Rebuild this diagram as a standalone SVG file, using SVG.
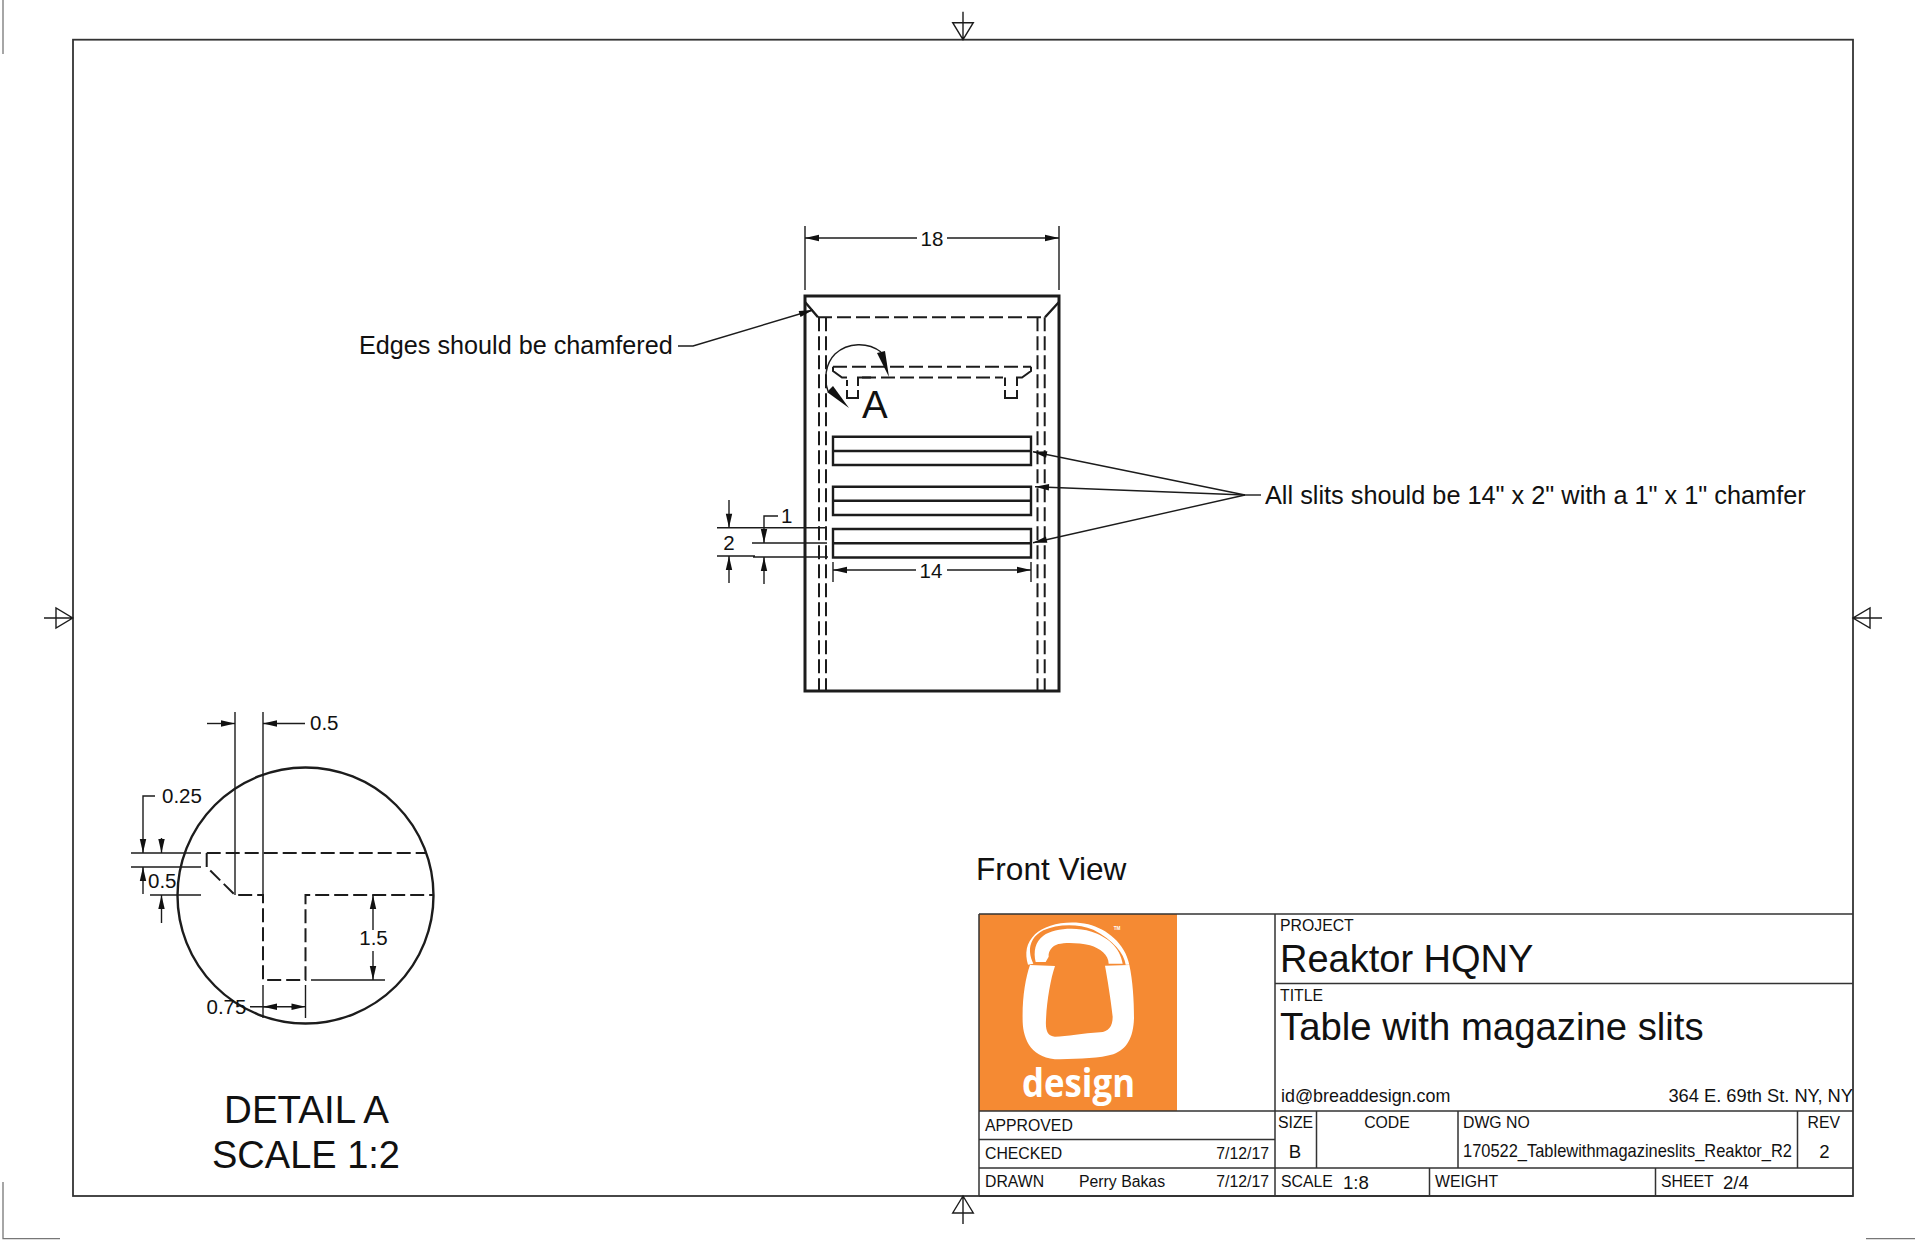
<svg xmlns="http://www.w3.org/2000/svg" width="1920" height="1242" viewBox="0 0 1920 1242">
<style>
text{font-family:"Liberation Sans",Arial,sans-serif;fill:#111}
.ln,.th,.hv,.da,.fr,.cr{fill:none;stroke:#1c1c1c}
.ln{stroke-width:1.4}
.th{stroke-width:2.4}
.hv{stroke-width:3}
.fr{stroke-width:1.8;stroke:#333}
.cr{stroke-width:1.3;stroke:#777}
.da{stroke-width:2;stroke-dasharray:14 5}
.tb{stroke-width:1.5;fill:none;stroke:#333}
.d{font-size:20.5px}
.s{font-size:15.8px}
.m{font-size:17.9px}
.b{font-size:18.6px}
.c{text-anchor:middle}
.ah{marker-end:url(#arr)}
</style>
<defs>
<marker id="arr" markerUnits="userSpaceOnUse" markerWidth="14" markerHeight="7" refX="14" refY="3.5" orient="auto" overflow="visible"><path d="M0,.3L14,3.5L0,6.7z" fill="#111"/></marker>
</defs>
<rect width="1920" height="1242" fill="#fff"/>

<g id="sheet-frame">
<rect class="fr" x="73" y="39.7" width="1780" height="1156.3"/>
<path class="cr" d="M3,0V54M3,1182V1238.7H60M1866,1238.7H1915"/>
<path class="ln" d="M952.7,22.7H973.3L963,39.7zM963,11.7V39.7"/>
<path class="ln" d="M952.7,1213H973.3L963,1196zM963,1196V1224"/>
<path class="ln" d="M56,608V628L72.7,618zM44,618H72.7"/>
<path class="ln" d="M1870,608V628L1853,618zM1853,618H1882"/>
</g>

<g id="front-view">
<rect class="hv" x="805" y="296" width="254" height="395"/>
<path class="th" d="M805,302L818,317.3M1059,302L1045,317.3"/>
<path class="da" d="M818,317.3H1045"/>
<path class="da" d="M819,317.3V691M826,317.3V691M1037.5,317.3V691M1044.7,317.3V691"/>
<path class="da" d="M833,366.7H1031"/>
<path class="da" d="M862,377.5H1003"/>
<path class="da" style="stroke-dasharray:none" d="M833,366.7V371L842,377.5H847M847,380V386M847,390V398H858V390M858,386V377.5H871M1005,377.5H1005V386M1005,390V398H1017V390M1017,386V377.5H1022L1031,371V366.7"/>
<path class="th" d="M833,436.7H1031V465H833zM833,451H1031"/>
<path class="th" d="M833,486.7H1031V515H833zM833,500.7H1031"/>
<path class="th" d="M833,529H1031V557.5H833zM833,543.3H1031"/>
<path class="ln" d="M881,352C868,342 848,342 835,354C825,364 824,380 828,391"/>
<polygon points="889,377 877,353 885,351" fill="#111"/>
<polygon points="849,408 827,392 833,386" fill="#111"/>
<text x="862" y="418" font-size="38.5">A</text>
</g>

<g id="dimensions-front">
<path class="ln" d="M805,226V290M1059,226V290"/>
<path class="ln ah" d="M917,238H805"/>
<path class="ln ah" d="M947,238H1059"/>
<text class="d c" x="932" y="246">18</text>
<path class="ln" d="M717,527.7H827M752,543H827M717,556H755M753,557H828"/>
<path class="ln ah" d="M729,500V527.7"/>
<path class="ln ah" d="M729,583V556"/>
<path class="ln ah" d="M778,516H764V543"/>
<path class="ln ah" d="M764,584V557"/>
<text class="d" x="781" y="523">1</text>
<text class="d c" x="729" y="550">2</text>
<path class="ln" d="M833,562V582M1031,562V582"/>
<path class="ln ah" d="M916,570H833"/>
<path class="ln ah" d="M947,570H1031"/>
<text class="d c" x="931" y="578">14</text>
</g>

<g id="notes">
<text x="359" y="354" font-size="25.2">Edges should be chamfered</text>
<path class="ln ah" d="M678,346H693L813,310"/>
<text x="1265" y="504" font-size="25.3">All slits should be 14" x 2" with a 1" x 1" chamfer</text>
<path class="ln" d="M1261,495H1245"/>
<path class="ln ah" d="M1245,495L1033,451.7"/>
<path class="ln ah" d="M1245,495L1035,486.7"/>
<path class="ln ah" d="M1245,495L1033,542.7"/>
</g>

<g id="detail-a">
<circle class="th" cx="305.5" cy="895.5" r="128"/>
<path class="da" d="M206.7,853H427"/>
<path class="da" d="M206.7,853V867L235,895H263V980H305.5V895H433"/>
<path class="ln" d="M131,853H201M131,867H201M150,895H201"/>
<path class="ln" d="M235,712V895M263,712V895M263,985V1018M305.5,985V1018M311,980H385"/>
<path class="ln ah" d="M207,723.5H235"/>
<path class="ln ah" d="M305,723.5H263"/>
<text class="d" x="310" y="730">0.5</text>
<path class="ln ah" d="M155,796H143V853"/>
<text class="d" x="162" y="803">0.25</text>
<path class="ln ah" d="M161.5,838V853"/>
<path class="ln ah" d="M143,894V867"/>
<path class="ln ah" d="M161.5,923V895"/>
<text class="d" x="148" y="888">0.5</text>
<path class="ln ah" d="M373,930V895"/>
<path class="ln ah" d="M373,951V980"/>
<text class="d c" x="373.5" y="945">1.5</text>
<text class="d" x="206.5" y="1014">0.75</text>
<path class="ln" d="M250,1006.7H292"/>
<path class="ln ah" d="M277,1006.7H263"/>
<path class="ln ah" d="M291,1006.7H305.5"/>
<text x="306.5" y="1123" font-size="38.5" class="c">DETAIL A</text>
<text x="306" y="1168" font-size="38" class="c">SCALE 1:2</text>
</g>

<text x="976" y="880" font-size="31.6">Front View</text>

<g id="logo">
<rect x="979" y="914" width="198" height="197" fill="#f58a33"/>
<g transform="translate(1010 915) scale(.33333)">
<path fill="#fff" fill-rule="evenodd" d="M60,150C46,190 36,250 38,320C40,375 65,433 150,433C210,431 270,430 310,418C350,403 370,370 372,310C372,255 368,195 358,150L285,152C292,190 302,250 308,305C308,335 295,350 270,352C220,355 170,365 135,365C112,365 106,345 108,315C110,260 122,190 135,153z"/>
<path fill="#fff" d="M77,141C70,110 75,80 100,62C130,42 190,34 245,50C290,65 330,95 338,146H296C296,120 270,100 240,91C205,82 165,82 145,87C125,93 114,110 116,125L107,141z"/>
<path fill="#fff" d="M54,149C44,115 48,85 75,58C105,30 170,14 235,28C290,42 345,85 358,149H347C343,115 310,75 250,44C200,24 140,28 100,46C72,60 58,85 60,110C61,125 65,135 70,146z"/>
<text x="311" y="46" style="fill:#fff;font-size:14px;font-weight:700">TM</text>
</g>
<text x="1022" y="1097" textLength="113" lengthAdjust="spacingAndGlyphs" style="font-family:'Open Sans',sans-serif;font-size:39px;font-weight:700;fill:#fff">design</text>
</g>

<g id="title-block">
<path class="tb" d="M979,914H1853M979,914V1196M1275,914V1196M1275,983.5H1853M979,1111H1853M979,1139.5H1275M979,1168H1853M1316.5,1111V1168M1458,1111V1168M1797.5,1111V1168M1429.5,1168V1196M1655.5,1168V1196"/>
<path class="fr" d="M979,1196H1853"/>
<text class="s" x="1280" y="930.5">PROJECT</text>
<text x="1280" y="972" font-size="38">Reaktor HQNY</text>
<text class="s" x="1280" y="1001">TITLE</text>
<text x="1280" y="1040" font-size="38.3">Table with magazine slits</text>
<text class="m" x="1281" y="1102">id@breaddesign.com</text>
<text style="font-size:18.3px" x="1853" y="1102" text-anchor="end">364 E. 69th St. NY, NY</text>
<text class="s" x="985" y="1131">APPROVED</text>
<text class="s" x="985" y="1159">CHECKED</text>
<text class="s" x="985" y="1187">DRAWN</text>
<text class="s" x="1079" y="1187">Perry Bakas</text>
<text class="s" x="1269" y="1159" text-anchor="end">7/12/17</text>
<text class="s" x="1269" y="1187" text-anchor="end">7/12/17</text>
<text class="s" x="1278" y="1128">SIZE</text>
<text class="s c" x="1387" y="1128">CODE</text>
<text class="s" x="1463" y="1128">DWG NO</text>
<text class="s" x="1807.5" y="1128">REV</text>
<text class="b c" x="1295" y="1158">B</text>
<text class="m" x="1463" y="1157" textLength="329" lengthAdjust="spacingAndGlyphs">170522_Tablewithmagazineslits_Reaktor_R2</text>
<text class="b c" x="1824.5" y="1158">2</text>
<text class="s" x="1281" y="1187">SCALE</text>
<text class="b" x="1343" y="1189">1:8</text>
<text class="s" x="1435" y="1187">WEIGHT</text>
<text class="s" x="1661" y="1187">SHEET</text>
<text class="b" x="1723" y="1189">2/4</text>
</g>
</svg>
